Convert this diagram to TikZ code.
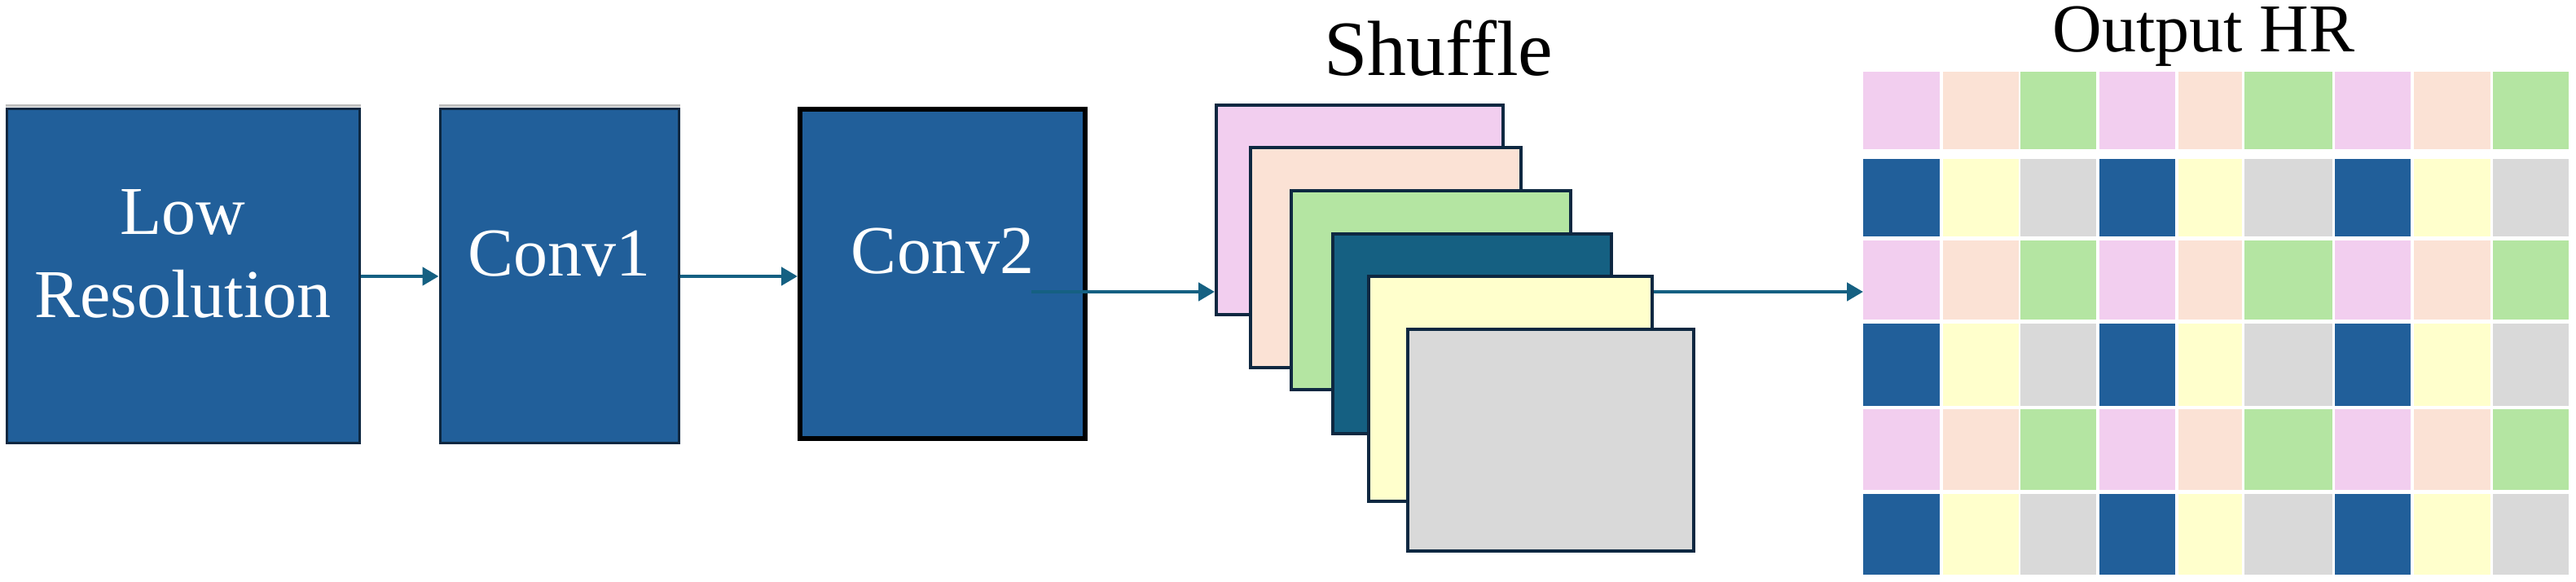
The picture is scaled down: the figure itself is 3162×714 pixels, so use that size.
\documentclass[tikz,border=0pt]{standalone}
\usepackage{fontspec}
\setmainfont{Liberation Serif}
\usetikzlibrary{arrows.meta,fit}
\definecolor{boxblue}{RGB}{33,95,154}
\definecolor{navyx}{HTML}{0E2841}
\definecolor{tealx}{HTML}{156082}
\definecolor{pinkx}{HTML}{F2CEEF}
\definecolor{peachx}{HTML}{FBE2D5}
\definecolor{greenx}{HTML}{B4E5A2}
\definecolor{yellowx}{HTML}{FFFFCC}
\definecolor{grayx}{HTML}{D9D9D9}
\begin{document}
\begin{tikzpicture}[x=0.25pt,y=-0.25pt,
  blockbox/.style={fill=boxblue, draw=navyx, line width=0.75pt, inner sep=0pt,
    text=white, font=\fontsize{21}{25.5}\selectfont, align=center},
  thickbox/.style={blockbox, draw=black, line width=1.5pt},
  layerbox/.style={draw=navyx, line width=1pt, inner sep=0pt},
  shadowline/.style={draw=black!25, line width=0.6pt},
  arr/.style={draw=tealx, line width=1.15pt, -{Triangle[length=5pt,width=5.5pt]}},
  title/.style={anchor=base, inner sep=0pt}]
\useasboundingbox[fill=white] (0,0) rectangle (3162,714);

% blocks
\node[blockbox, fit={(8,134) (441,544)}] (lr) {Low\\Resolution};
\node[blockbox, fit={(540,134) (833,544)}] (cv1) {Conv1};
\node[thickbox, fit={(982,134) (1332,538)}] (cv2) {Conv2};
\draw[shadowline] ([yshift=0.7pt]lr.north west) -- ([yshift=0.7pt]lr.north east);
\draw[shadowline] ([yshift=0.7pt]cv1.north west) -- ([yshift=0.7pt]cv1.north east);

% shuffle layers
\node[layerbox, fill=pinkx,   fit={(1493,129) (1845,386)}] (pink) {};
\node[layerbox, fill=peachx,  fit={(1535,181) (1867,451)}] (peach) {};
\node[layerbox, fill=greenx,  fit={(1585,234) (1928,478)}] (green) {};
\node[layerbox, fill=tealx,   fit={(1636,287) (1978,532)}] (teall) {};
\node[layerbox, fill=yellowx, fit={(1680,339) (2028,615)}] (yellow) {};
\node[layerbox, fill=grayx,   fit={(1728,404) (2079,676)}] (gray) {};

% titles
\node[title, font=\fontsize{24}{28}\selectfont] (shuf) at (1766,93) {Shuffle};
\node[title, font=\fontsize{21}{25}\selectfont] (ohr) at (2705,64) {Output HR};

% output grid
\foreach \ta/\tb/\ca/\cb/\cc in {88/183/pinkx/peachx/greenx, 195/290/boxblue/yellowx/grayx,
    295/392/pinkx/peachx/greenx, 397/498/boxblue/yellowx/grayx,
    502/601/pinkx/peachx/greenx, 606/705/boxblue/yellowx/grayx}{
  \foreach \la/\lb/\k in {2287/2381/1, 2385/2478/2, 2480/2573/3, 2577/2670/1, 2674/2752/2,
      2755/2863/3, 2866/2959/1, 2963/3057/2, 3060/3153/3}{
    \ifnum\k=1 \def\cl{\ca}\fi
    \ifnum\k=2 \def\cl{\cb}\fi
    \ifnum\k=3 \def\cl{\cc}\fi
    \fill[fill=\cl] (\la,\ta) rectangle (\lb,\tb);
  }
}
\coordinate (hrin) at (2287,358);

% connectors
\draw[arr] (lr.east |- cv1.center) -- (cv1.west);
\draw[arr] (cv1.east) -- (cv2.west |- cv1.east);
\coordinate (c2out) at (1266,358);
\draw[arr] (c2out) -- (pink.west |- c2out);
\draw[arr] (yellow.east |- hrin) -- (hrin);
\end{tikzpicture}
\end{document}
